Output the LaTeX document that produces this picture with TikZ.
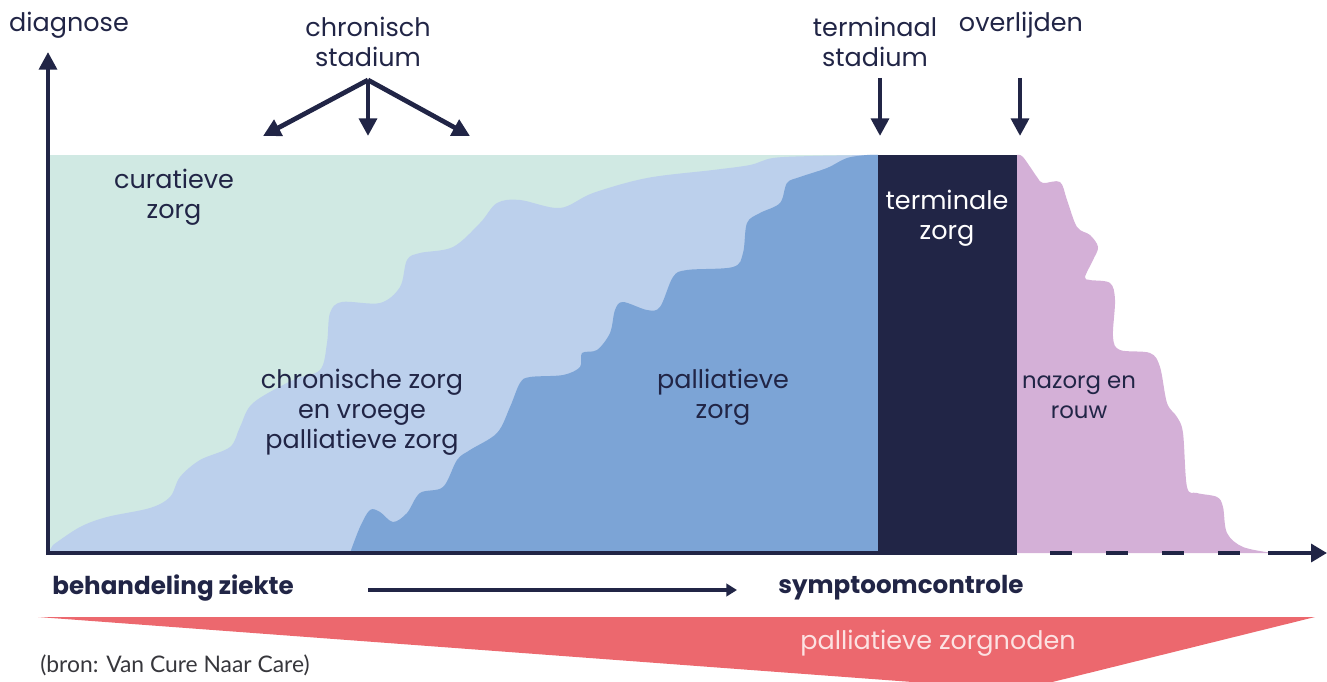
\documentclass[tikz,border=0pt]{standalone}
\usepackage{fontspec}
\setmainfont{Poppins}
\newfontfamily\srcfont{Lato}
\usetikzlibrary{arrows.meta}
\definecolor{curegreen}{RGB}{208,233,227}
\definecolor{chronblue}{RGB}{188,208,236}
\definecolor{palblue}{RGB}{124,164,214}
\definecolor{navy}{RGB}{33,37,70}
\definecolor{mourn}{RGB}{212,176,215}
\definecolor{needred}{RGB}{236,104,110}
\definecolor{needtext}{RGB}{252,226,226}
\definecolor{srcgray}{RGB}{55,55,60}

\begin{document}
\begin{tikzpicture}[
  x=0.02cm, y=-0.02cm,
  zone text/.style={text=navy, align=center, inner sep=0pt,
    font=\fontsize{14.5}{17}\selectfont},
  stage arrow/.style={draw=navy, line width=2.7pt,
    -{Triangle[length=10pt,width=10pt]}},
  axis line/.style={draw=navy, line width=2.4pt},
]
  \useasboundingbox (0,0) rectangle (1327,682);
  % curative care
  \fill [curegreen] (48,155) rectangle (878,553);
  % chronic care
  \fill [chronblue]
    (48,553)
    -- plot [smooth, tension=0.55] coordinates {
      (53,545) (80,527) (107,517) (150,508) (170,497) (180,477)
      (200,460) (230,447) (240,427) (253,403) (293,380) (320,370)
      (327,343) (330,313) (342,302) (380,303) (400,287) (407,260)
      (420,253) (453,247) (480,223) (497,203) (520,200) (560,208)
      (593,193) (647,178) (713,170) (750,165) (773,158) (813,156)
      (870,155)}
    -- (878,155)
    -- (878,553)
    -- cycle
  ;
  % palliative care
  \fill [palblue]
    (350,553)
    -- plot [smooth, tension=0.55] coordinates {
      (350,553) (360,527) (370,510) (380,512) (393,522) (407,513)
      (420,493) (443,487) (457,460) (470,450) (497,433) (510,407)
      (520,383) (530,377) (563,375) (580,367) (582,353) (597,350)
      (610,333) (615,310) (623,302) (647,310) (660,307) (673,277)
      (687,270) (733,267) (743,253) (747,223) (760,213) (780,203)
      (787,183) (800,177) (827,168) (847,158) (867,155)}
    -- (878,155)
    -- (878,553)
    -- cycle
  ;
  % terminal care
  \fill [navy] (878,155) rectangle (1017,553);
  % aftercare
  \fill [mourn]
    (1017,155)
    -- plot [smooth, tension=0.55] coordinates {
      (1017,155) (1023,157) (1037,177) (1043,183) (1060,182)
      (1067,200) (1077,227) (1090,235) (1098,247) (1093,260)
      (1085,277) (1090,280) (1110,283) (1115,300) (1113,337)
      (1120,350) (1150,353) (1160,367) (1167,403) (1177,417)
      (1183,433) (1187,487) (1197,493) (1217,497) (1223,507)
      (1227,533) (1243,547) (1273,553)}
    -- (1017,553)
    -- cycle
  ;
  % axes
  \coordinate (origin) at (48,553);
  \coordinate (ytip) at (48,52);
  \coordinate (death) at (1017,553);
  \coordinate (dash start) at (1050,553);
  \coordinate (dash end) at (1246,553);
  \coordinate (tail) at (1268,553);
  \coordinate (xtip) at (1327,553);
  \draw [axis line, -{Triangle[length=10pt,width=10pt]}]
    ([yshift=-1.2pt]origin)
    -- (ytip)
  ;
  \draw [axis line]
    ([xshift=-1.2pt]origin)
    -- (death)
  ;
  \draw [axis line, dash pattern=on 0.44cm off 0.68cm]
    (dash start)
    -- (dash end)
  ;
  \draw [axis line, -{Triangle[length=9pt,width=10pt]}]
    (tail)
    -- (xtip)
  ;
  % stage labels
  \node [zone text] (diag) at (69,25) {diagnose};
  \node [zone text] (chron) at (368,42) {chronisch\\stadium};
  \node [zone text] (term) at (875,42) {terminaal\\stadium};
  \node [zone text] (died) at (1021,25) {overlijden};
  % stage arrows
  \coordinate (fork) at (368,80);
  \coordinate (chron left) at (263,136);
  \coordinate (chron mid) at (368,136);
  \coordinate (chron right) at (470,136);
  \coordinate (term top) at (880,78);
  \coordinate (term end) at (880,136);
  \coordinate (died top) at (1020,78);
  \coordinate (died end) at (1020,136);
  \draw [stage arrow] (fork) -- (chron left);
  \draw [stage arrow] (fork) -- (chron mid);
  \draw [stage arrow] (fork) -- (chron right);
  \draw [stage arrow] (term top) -- (term end);
  \draw [stage arrow] (died top) -- (died end);
  % zone labels
  \node [zone text] (cure) at (174,197) {curatieve\\zorg};
  \node [zone text] (chronic) at (362,412)
    {chronische zorg\\en vroege\\palliatieve zorg};
  \node [zone text] (pall) at (723,397) {palliatieve\\zorg};
  \node [zone text, text=white] (terminal) at (947,218) {terminale\\zorg};
  \node [zone text, font=\fontsize{13}{17}\selectfont]
    (after) at (1079,397) {nazorg en\\rouw};
  % treatment to symptom control
  \node [zone text, anchor=west, font=\fontsize{14}{17}\selectfont\bfseries]
    (treat) at (52,588) {behandeling ziekte};
  \node [zone text, anchor=west, font=\fontsize{14}{17}\selectfont\bfseries]
    (sympt) at (778,588) {symptoomcontrole};
  \coordinate (shift start) at (368,590);
  \coordinate (shift end) at (737,590);
  \draw [draw=navy, line width=2.8pt, -{Triangle[length=6pt,width=7pt]}]
    (shift start)
    -- (shift end)
  ;
  % palliative needs
  \fill [needred]
    (38,617)
    -- (1315,617)
    -- (1020,690)
    -- cycle
  ;
  \node [zone text, text=needtext] (needs) at (938,643) {palliatieve zorgnoden};
  % source
  \node [anchor=west, inner sep=0pt, text=srcgray,
    font=\srcfont\fontsize{13}{15}\selectfont]
    (source) at (40,665) {(bron: Van Cure Naar Care)};
\end{tikzpicture}
\end{document}
